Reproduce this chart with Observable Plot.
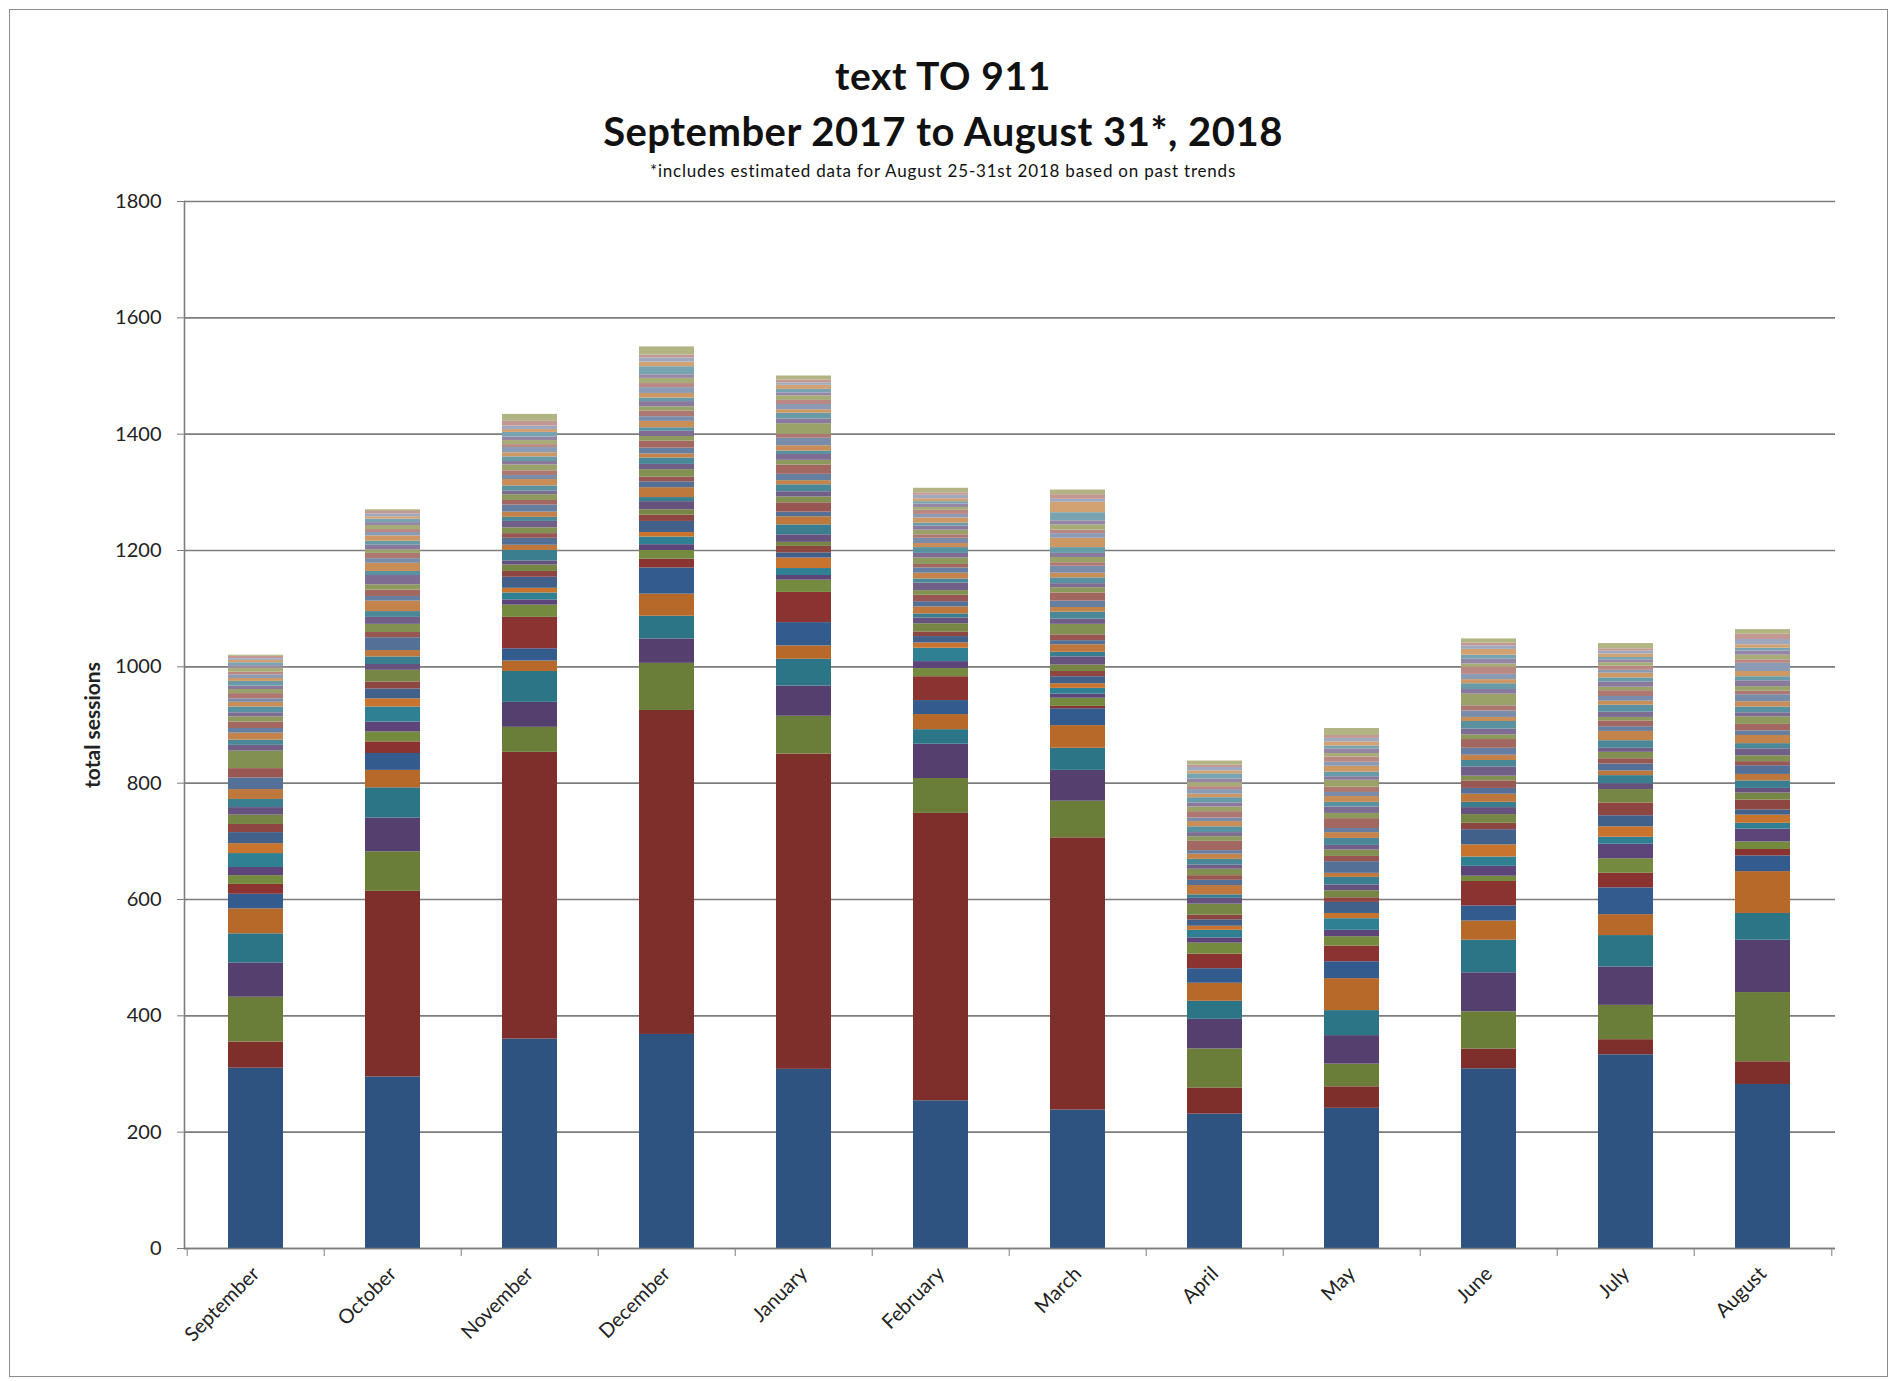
<!DOCTYPE html>
<html><head><meta charset="utf-8">
<script src="https://cdn.jsdelivr.net/npm/d3@7"></script>
<script src="https://cdn.jsdelivr.net/npm/@observablehq/plot@0.6"></script>
<style>
html,body{margin:0;padding:0;background:#fff;}
body{font-family:Lato,"Open Sans",sans-serif;width:1898px;height:1381px;position:relative;overflow:hidden;}
#frame{position:absolute;left:9px;top:9px;width:1877px;height:1366px;border:1.5px solid #8c8c8c;}
#wrap{position:absolute;left:0;top:0;width:1898px;}
#head{position:relative;height:170px;}
.t{position:absolute;left:0;width:1886px;text-align:center;color:#111;white-space:nowrap;}
</style></head><body>
<div id="frame"></div>
<div id="wrap">
  <div id="head">
    <div class="t" id="t1" style="top:52px;font-size:39px;font-weight:700;line-height:46px;letter-spacing:0.6px">text TO 911</div>
    <div class="t" id="t2" style="top:107px;font-size:40px;font-weight:700;line-height:48px;letter-spacing:0.5px">September 2017 to August 31*, 2018</div>
    <div class="t" id="t3" style="top:161px;font-size:17px;line-height:20px;letter-spacing:0.8px">*includes estimated data for August 25-31st 2018 based on past trends</div>
  </div>
  <div id="chart"></div>
</div>
<script>
// ---- data (segments listed bottom to top, total sessions) ----
const months = ["September","October","November","December","January","February","March","April","May","June","July","August"];
const yTicks = [0,200,400,600,800,1000,1200,1400,1600,1800];

const sep = [310,45,77,59,50,43,25,17,15, 14,24,17,19,14,16,13,14,17,20,16,30,10,9,12,8,11,9,7,10,8,6,9,7,6,8,5,6,5,7,4,5,4,3,4,2];
const oct = [295,319,68,58,52,30,29,20,17, 17,26,14,17,12,20,10,13,11,22,9,14,12,10,18,8,11,9,16,7,14,8,9,6,8,7,9,6,5,7,5,6,4,5,4,3];
const nov = [360,493,43,43,53,18,21,54,21, 9,12,8,19,10,11,7,18,9,12,8,10,11,7,9,12,8,10,6,9,11,7,8,10,6,8,7,9,5,7,6,8,5,6,8,12];
const dec = [368,557,81,42,39,38,45,15,15, 10,13,8,19,11,9,14,7,17,10,8,13,9,11,7,10,12,8,9,6,11,8,10,7,9,6,8,10,7,9,6,14,8,7,5,14];
const jan = [308,542,65,52,46,23,40,52,21, 8,12,18,9,11,7,13,17,14,8,16,10,9,12,7,11,16,8,10,6,9,13,7,18,8,10,6,9,7,8,5,6,7,4,5,7];
const feb = [254,494,60,59,25,26,24,41,14, 12,23,9,11,8,14,10,7,12,9,11,8,13,7,10,9,6,11,8,10,7,9,6,8,7,5,9,6,7,5,6,4,5,6,4,8];
const mar = [238,468,63,53,38,39,29,4,14, 7,10,8,12,9,11,14,8,13,7,10,18,9,12,8,11,14,9,7,10,8,12,6,9,7,10,16,8,6,9,7,14,18,5,8,8];
const apr = [231,45,67,51,31,31,25,25,19, 9,13,7,11,8,19,10,6,16,9,8,11,7,10,9,6,16,8,7,10,9,6,11,8,7,9,6,8,5,7,6,9,5,6,4,7];
const may = [241,37,39,49,43,55,29,27,16, 11,20,9,19,8,12,10,13,7,20,9,11,8,12,10,7,17,9,11,8,10,7,9,12,6,8,10,7,9,6,8,5,7,6,5,12];
const jun = [309,34,64,67,56,33,26,42,9, 17,16,21,26,11,15,12,9,14,10,13,8,16,11,9,12,15,8,10,13,7,11,9,20,8,10,7,9,12,6,8,7,10,6,5,7];
const jul = [333,26,59,66,54,36,46,25,25, 25,12,18,19,22,23,10,14,8,12,9,11,7,13,16,8,10,6,9,12,7,8,10,6,9,7,8,5,7,6,5,4,6,5,4,9];
const aug = [282,39,119,90,46,72,27,11,13, 22,10,14,9,17,12,8,13,11,15,7,10,12,9,14,8,11,13,7,10,9,12,6,8,10,7,9,14,6,8,7,5,6,9,9,8];

const byMonth = [sep,oct,nov,dec,jan,feb,mar,apr,may,jun,jul,aug];
const table = months.flatMap((m,i) => byMonth[i].map((v,s) => ({month:m, series:s, value:v})));
const nSeries = d3.max(byMonth, a => a.length);

// ---- colours: 6 Excel-like hues, paler for upper series ----
const baseHues = ["#2f5381","#7e2f2c","#6a7e39","#553f6f","#2c7587","#b7692a"];
const pale = ["#c9cbd8","#d8b8b0","#cfc9a0","#b9acc4","#a9c4cc","#e2c19a"];
const colors = d3.range(nSeries).map(i => {
  const h = i % 6, c = Math.floor(i / 6);
  let col = d3.color(baseHues[h]);
  if (c === 1) col = col.brighter(0.25);
  if (c >= 2) col = d3.color(d3.interpolateRgb(baseHues[h], pale[h])(Math.min(0.85, (c - 1) * 0.12 + (i % 2) * 0.05)));
  return col.formatHex();
});

// ---- layout ----
const W = 1898, H = 1211, mL = 184, mR = 63, mT = 31, mB = 133;
const step = (W - mL - mR) / months.length;

const chart = Plot.plot({
  width: W, height: H,
  marginLeft: mL, marginRight: mR, marginTop: mT, marginBottom: mB,
  style: {fontFamily: "Lato, 'Open Sans', sans-serif", color: "#222", background: "transparent", overflow: "visible"},
  x: {domain: months, paddingInner: 0.595, paddingOuter: 0.2975},
  y: {domain: [0, 1800]},
  color: {type: "ordinal", domain: d3.range(nSeries), range: colors},
  marks: [
    Plot.gridY(yTicks, {stroke: "#7d7d7d", strokeOpacity: 1, strokeWidth: 1.6}),
    Plot.barY(table, {x: "month", y: "value", fill: "series", order: null}),
    Plot.axisY(yTicks, {tickSize: 7, tickPadding: 16, stroke: "#7d7d7d", fontSize: 20, tickFormat: d3.format("d"),
      label: "total sessions", labelAnchor: "center", labelArrow: "none", labelOffset: 99}),
    Plot.frame({anchor: "left", stroke: "#7d7d7d", strokeWidth: 1.6}),
    Plot.ruleY([0], {stroke: "#7d7d7d", strokeWidth: 1.6}),
    Plot.axisX(months, {tickSize: 8, tickFormat: () => "", dx: -step / 2, stroke: "#7d7d7d", label: null}),
    Plot.axisX([months[months.length - 1]], {tickSize: 8, tickFormat: () => "", dx: step / 2, stroke: "#7d7d7d", label: null}),
    Plot.axisX(months, {tickSize: 0, tickRotate: -45, tickPadding: 22, fontSize: 20, label: null})
  ]
});
document.getElementById("chart").appendChild(chart);
// axis label styling
d3.select(chart).selectAll("[aria-label='y-axis label'] text").attr("font-size", 21).attr("font-weight", 700);
</script>
</body></html>
